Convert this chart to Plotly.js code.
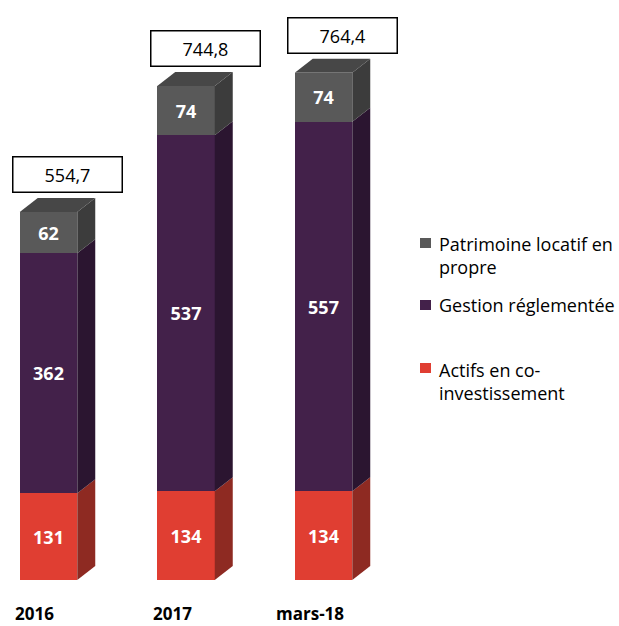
<!DOCTYPE html>
<html>
<head>
<meta charset="utf-8">
<script src="https://cdn.plot.ly/plotly-3.0.1.min.js"></script>
<style>html,body{margin:0;padding:0;background:#fff;}#chart{width:619px;height:626px;}</style>
</head>
<body>
<div id="chart"></div>
<script>
// ---- data ----
const categories = ['2016', '2017', 'mars-18'];
const actifs = [131, 134, 134];
const gestion = [362, 537, 557];
const patrimoine = [62, 74, 74];
const totals = [554.7, 744.8, 764.4];
const totalLabels = ['554,7', '744,8', '764,4'];
const seriesNames = ['Actifs en co-<br>investissement', 'Gestion réglementée', 'Patrimoine locatif en<br>propre'];

// ---- style ----
const W = 619, H = 626;
const M = {l: 0, r: 0, t: 10, b: 46};
const plotH = H - M.t - M.b;
const pxPerUnitY = 0.663;
const yMax = plotH / pxPerUnitY;
const pxPerCat = 137.5;
const x0px = 48.5;
const xRange = [-x0px / pxPerCat, (W - x0px) / pxPerCat];
const barW = 57.5 / pxPerCat;
const dx = 18 / pxPerCat;
const dy = 14 / pxPerUnitY;
const FONT = 'Open Sans';

const frontColors = ['#e03e32', '#43214a', '#595959'];
const sideColors = ['#8e2a22', '#2b1530', '#3c3c3c'];
const topColor = '#474747';

const series = [actifs, gestion, patrimoine];
const xs = categories.map((c, i) => i);

const traces = [];
// front faces as stacked bars
series.forEach((vals, s) => {
  traces.push({
    type: 'bar', x: xs, y: vals, width: barW,
    marker: {color: frontColors[s], line: {width: 0}},
    text: vals.map(String), textposition: 'inside', insidetextanchor: 'middle',
    constraintext: 'none',
    textfont: {family: FONT, size: 18, color: '#ffffff', weight: 'bold'},
    hoverinfo: 'skip', showlegend: false
  });
});
// side & top faces computed from data
xs.forEach((xi, i) => {
  let base = 0;
  const xr = xi + barW / 2, xl = xi - barW / 2;
  series.forEach((vals, s) => {
    const y0 = base, y1 = base + vals[i];
    traces.push({
      type: 'scatter', mode: 'lines', fill: 'toself',
      x: [xr, xr + dx, xr + dx, xr, xr],
      y: [y0, y0 + dy, y1 + dy, y1, y0],
      line: {width: 0}, fillcolor: sideColors[s],
      hoverinfo: 'skip', showlegend: false
    });
    base = y1;
  });
  traces.push({
    type: 'scatter', mode: 'lines', fill: 'toself',
    x: [xl, xl + dx, xr + dx, xr, xl],
    y: [base, base + dy, base + dy, base, base],
    line: {width: 0}, fillcolor: topColor,
    hoverinfo: 'skip', showlegend: false
  });
});

const annotations = [];
// total boxes
xs.forEach((xi, i) => {
  annotations.push({
    x: xi, y: totals[i], xref: 'x', yref: 'y',
    text: totalLabels[i], showarrow: false,
    xanchor: 'center', yanchor: 'bottom', xshift: 19, yshift: 19,
    width: 105, height: 31, borderpad: 1.5, borderwidth: 1.5,
    bordercolor: '#000', bgcolor: '#fff',
    font: {family: FONT, size: 18, color: '#000'}
  });
  annotations.push({
    x: xi, y: 0, xref: 'x', yref: 'y',
    text: categories[i], showarrow: false,
    xanchor: 'center', yanchor: 'middle', xshift: -14, yshift: -33,
    font: {family: FONT, size: 17, color: '#000', weight: 'bold'}
  });
});

// legend (custom)
const py = p => (H - M.b - p) / plotH;
const legendItems = [
  {s: 2, cy: 255.5, sq: 238},
  {s: 1, cy: 305, sq: 300},
  {s: 0, cy: 381, sq: 363}
];
const shapes = [];
legendItems.forEach(it => {
  annotations.push({
    x: 437 / W, y: py(it.cy), xref: 'paper', yref: 'paper',
    text: seriesNames[it.s], showarrow: false, align: 'left',
    xanchor: 'left', yanchor: 'middle',
    font: {family: FONT, size: 18, color: '#000'}
  });
  shapes.push({
    type: 'rect', xref: 'paper', yref: 'paper',
    x0: 420 / W, x1: 431 / W, y0: py(it.sq + 10), y1: py(it.sq),
    fillcolor: frontColors[it.s], line: {width: 0}
  });
});

const layout = {
  width: W, height: H, margin: M,
  paper_bgcolor: '#fff', plot_bgcolor: '#fff',
  barmode: 'stack', showlegend: false,
  xaxis: {range: xRange, visible: false, fixedrange: true},
  yaxis: {range: [0, yMax], visible: false, fixedrange: true},
  annotations: annotations, shapes: shapes
};

Plotly.newPlot('chart', traces, layout, {staticPlot: true});
</script>
</body>
</html>
